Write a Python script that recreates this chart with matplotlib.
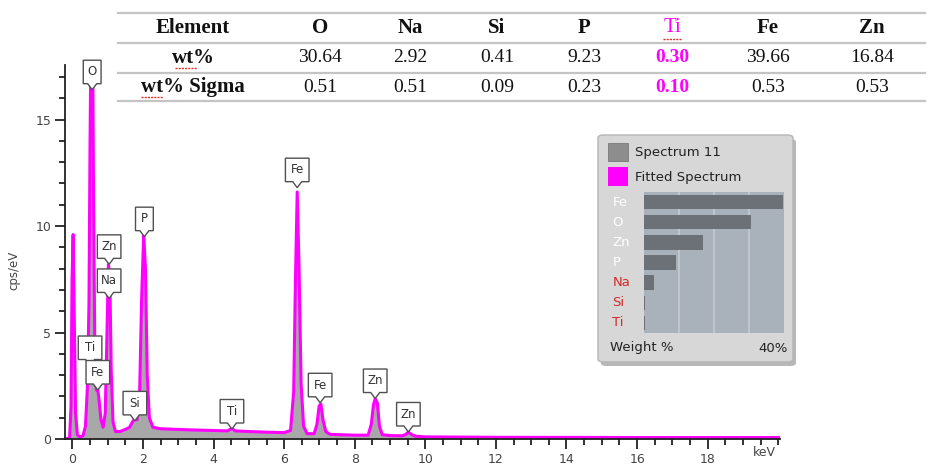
import matplotlib.pyplot as plt
from matplotlib.patches import FancyBboxPatch, Polygon, Rectangle
from matplotlib.lines import Line2D
from matplotlib.ticker import MultipleLocator
from matplotlib.transforms import ScaledTranslation

# EDS spectrum (keV -> cps/eV)
energy = [-0.20, -0.08, -0.04, -0.01, 0.02, 0.05, 0.09, 0.14, 0.20, 0.30,
          0.37, 0.43, 0.47, 0.50, 0.53, 0.57, 0.60, 0.64, 0.68, 0.71,
          0.75, 0.81, 0.87, 0.93, 0.98, 1.02, 1.06, 1.10, 1.15, 1.22,
          1.35, 1.50, 1.62, 1.70, 1.77, 1.83, 1.90, 1.96, 2.02, 2.07,
          2.12, 2.18, 2.28, 2.50, 3.00, 3.50, 4.00, 4.40, 4.51, 4.62,
          5.00, 5.50, 6.00, 6.18, 6.27, 6.32, 6.37, 6.42, 6.48, 6.55,
          6.65, 6.85, 6.93, 6.99, 7.04, 7.10, 7.18, 7.30, 7.60, 8.00,
          8.38, 8.47, 8.53, 8.58, 8.64, 8.70, 8.78, 9.00, 9.35, 9.45,
          9.52, 9.60, 9.72, 10.00, 12.00, 16.00, 20.05]
fitted = [0.00, 0.05, 1.50, 7.50, 9.60, 6.00, 1.20, 0.20, 0.10, 0.15,
          0.60, 2.60, 6.50, 14.0, 19.5, 19.5, 11.0, 3.20, 2.30, 2.45,
          1.90, 0.90, 0.55, 1.20, 5.00, 8.20, 7.60, 3.20, 0.80, 0.35,
          0.35, 0.45, 0.55, 0.80, 0.95, 0.90, 1.80, 6.50, 9.60, 8.00,
          3.00, 1.00, 0.55, 0.48, 0.45, 0.42, 0.40, 0.38, 0.50, 0.38,
          0.35, 0.32, 0.30, 0.40, 2.20, 7.50, 11.6, 8.20, 2.60, 0.60,
          0.25, 0.25, 0.70, 1.55, 1.65, 0.90, 0.35, 0.22, 0.20, 0.18,
          0.18, 0.70, 1.60, 1.90, 1.70, 0.60, 0.20, 0.16, 0.15, 0.22,
          0.33, 0.22, 0.13, 0.10, 0.08, 0.07, 0.07]

# peak labels: element, keV and cps/eV of the pointer tip
peak_names = ["O", "Zn", "Na", "Ti", "Fe", "Si", "P", "Ti", "Fe", "Fe", "Zn", "Zn"]
peak_kev = [0.56, 1.04, 1.04, 0.50, 0.72, 1.77, 2.04, 4.52, 6.37, 7.02, 8.58, 9.52]
peak_cps = [16.40, 8.20, 6.60, 3.45, 2.30, 0.85, 9.50, 0.47, 11.80, 1.70, 1.90, 0.33]

# quantification table
elements = ["O", "Na", "Si", "P", "Ti", "Fe", "Zn"]
wt = [30.64, 2.92, 0.41, 9.23, 0.30, 39.66, 16.84]
wt_sigma = [0.51, 0.51, 0.09, 0.23, 0.10, 0.53, 0.53]
highlight = "Ti"

# inset bar chart (weight %)
bar_order = ["Fe", "O", "Zn", "P", "Na", "Si", "Ti"]
minor_elements = ["Na", "Si", "Ti"]

W, H = 931, 471
MAGENTA = "#ff00ff"


def fx(px):
    return px / W


def fy(py):
    return 1 - py / H


fig = plt.figure(figsize=(W / 100, H / 100), dpi=100)

# ---- spectrum axes ----
ax = fig.add_axes([fx(65), fy(439), (780 - 65) / W, (439 - 65) / H])
ax.fill_between(energy, fitted, color="#a8a8a8", lw=0, zorder=1)
ax.plot(energy, fitted, color=MAGENTA, lw=2.2, solid_joinstyle="round", zorder=2)
ax.set_xlim(-0.21, 20.05)
ax.set_ylim(0, 17.56)
for s in ["top", "right"]:
    ax.spines[s].set_visible(False)
for s in ["left", "bottom"]:
    ax.spines[s].set_color("#222222")
    ax.spines[s].set_linewidth(1.3)
ax.set_xticks(range(0, 19, 2))
ax.xaxis.set_minor_locator(MultipleLocator(0.5))
ax.set_yticks([0, 5, 10, 15])
ax.yaxis.set_minor_locator(MultipleLocator(1))
ax.tick_params(which="major", length=7, width=1.3, color="#222222",
               labelsize=9, labelcolor="#444444", pad=3)
ax.tick_params(which="minor", length=4.5, width=1.3, color="#222222")
ax.text(19.6, -0.037, "keV", transform=ax.get_xaxis_transform(),
        fontsize=9, color="#444444", ha="center", va="center")
ax.set_ylabel("cps/eV", fontsize=8.5, color="#444444")
ax.yaxis.set_label_coords(-0.063, 0.45)


def callout(x, y, text):
    # white label box with a small notch pointing down at (x, y)
    w = (12 + 5.8 * len(text)) / 100
    h = 0.235
    n = 0.06
    hw = 0.045
    tr = fig.dpi_scale_trans + ScaledTranslation(x, y, ax.transData)
    verts = [(0, 0), (-hw, n), (-w / 2, n), (-w / 2, n + h),
             (w / 2, n + h), (w / 2, n), (hw, n)]
    ax.add_patch(Polygon(verts, closed=True, transform=tr, facecolor="white",
                         edgecolor="#505050", lw=1.0, zorder=5, clip_on=False))
    ax.text(0, n + h / 2, text, transform=tr, ha="center", va="center",
            fontsize=8.5, color="#333333", zorder=6, clip_on=False)


for name, k, c in zip(peak_names, peak_kev, peak_cps):
    callout(k, c, name)

# ---- table at top ----
col_x = [193, 320, 410, 497, 584, 672, 768, 872]
for yy in [13, 43, 73, 101]:
    fig.add_artist(Line2D([fx(118), fx(925)], [fy(yy), fy(yy)], color="#c4c4c4", lw=1.6))

serif = "Liberation Serif"
for label, yy in [("Element", 28), ("wt%", 58), ("wt% Sigma", 87)]:
    fig.text(fx(col_x[0]), fy(yy), label, ha="center", va="center", fontsize=15,
             fontweight="bold", family=serif, color="#111111")
# spell-check underlines
for x0, x1, yy in [(175, 197, 68), (141, 163, 97), (663, 682, 39)]:
    fig.add_artist(Line2D([fx(x0), fx(x1)], [fy(yy), fy(yy)], color="#e03030",
                          lw=1.0, ls=(0, (1.5, 0.8))))

for i, el in enumerate(elements):
    xx = fx(col_x[i + 1])
    hl = el == highlight
    col = MAGENTA if hl else "#111111"
    fig.text(xx, fy(28), el, ha="center", va="center", fontsize=15,
             fontweight="normal" if hl else "bold", family=serif, color=col)
    fig.text(xx, fy(58), f"{wt[i]:.2f}", ha="center", va="center", fontsize=14,
             fontweight="bold" if hl else "normal", family=serif, color=col)
    fig.text(xx, fy(87), f"{wt_sigma[i]:.2f}", ha="center", va="center", fontsize=14,
             fontweight="bold" if hl else "normal", family=serif, color=col)

# ---- inset legend / weight % panel ----
fig.add_artist(FancyBboxPatch((fx(601), fy(366)), 195 / W, 227 / H,
                              boxstyle="round,pad=0,rounding_size=0.006",
                              transform=fig.transFigure, facecolor="#8a8a8a",
                              edgecolor="none", alpha=0.6, zorder=2))
fig.add_artist(FancyBboxPatch((fx(598), fy(362)), 195 / W, 227 / H,
                              boxstyle="round,pad=0,rounding_size=0.006",
                              transform=fig.transFigure, facecolor="#d7d7d7",
                              edgecolor="#b5b5b5", lw=1, zorder=3))
fig.add_artist(Rectangle((fx(608), fy(161)), 20 / W, 18 / H, transform=fig.transFigure,
                         facecolor="#8d8d8d", edgecolor="#7a7a7a", lw=0.6, zorder=4))
fig.add_artist(Rectangle((fx(608), fy(186)), 20 / W, 19 / H, transform=fig.transFigure,
                         facecolor=MAGENTA, edgecolor="none", zorder=4))
fig.text(fx(635), fy(153), "Spectrum 11", fontsize=9.5, color="#222222", va="center", zorder=4)
fig.text(fx(635), fy(177), "Fitted Spectrum", fontsize=9.5, color="#222222", va="center", zorder=4)
fig.text(fx(610), fy(348), "Weight %", fontsize=9.5, color="#222222", va="center", zorder=4)
fig.text(fx(788), fy(348), "40%", fontsize=9.5, color="#222222", va="center", ha="right", zorder=4)

axb = fig.add_axes([fx(644), fy(333), 140 / W, 141 / H], zorder=5)
axb.set_facecolor("#a9b1ba")
bar_vals = [wt[elements.index(e)] for e in bar_order]
axb.barh(range(len(bar_order)), bar_vals, height=0.72, color="#6c7177", zorder=2)
axb.set_xlim(0, 40)
axb.set_ylim(len(bar_order) - 0.5, -0.5)
for g in [10, 20, 30]:
    axb.axvline(g, color="#c6cbd1", lw=1.2, zorder=1)
axb.set_xticks([])
axb.set_yticks([])
for s in axb.spines.values():
    s.set_visible(False)
for i, e in enumerate(bar_order):
    axb.text(-0.225, i, e, transform=axb.get_yaxis_transform(), ha="left", va="center",
             fontsize=9.5, color="#d42a2a" if e in minor_elements else "white",
             clip_on=False)

fig.savefig("out.png", dpi=100)
